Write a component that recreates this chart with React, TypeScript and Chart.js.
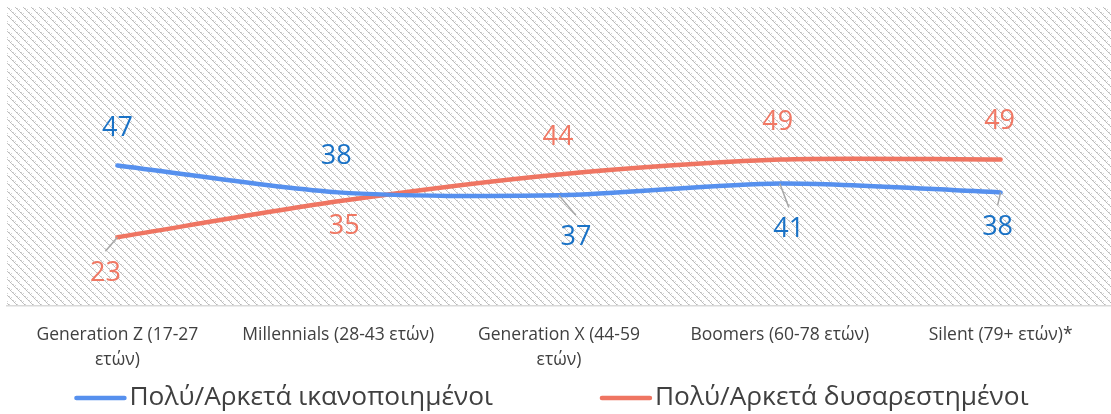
import { useEffect, useRef } from "react";
import { Chart, registerables } from "chart.js";

Chart.register(...registerables);

const categories: (string | string[])[] = [
  ["Generation Z (17-27", "ετών)"],
  "Millennials (28-43 ετών)",
  ["Generation X (44-59", "ετών)"],
  "Boomers (60-78 ετών)",
  "Silent (79+ ετών)*",
];
const seriesNames = ["Πολύ/Αρκετά ικανοποιημένοι", "Πολύ/Αρκετά δυσαρεστημένοι"];
const satisfied = [47, 38, 37, 41, 38];
const dissatisfied = [23, 35, 44, 49, 49];

// label placement (layout only): offset from the point, and whether a leader line is drawn
const satisfiedLabelLayout = [
  { dx: 0, dy: -37, leader: false },
  { dx: -2, dy: -36, leader: false },
  { dx: 17, dy: 42, leader: true },
  { dx: 9, dy: 46, leader: true },
  { dx: -3, dy: 35, leader: true },
];
const dissatisfiedLabelLayout = [
  { dx: -12, dy: 36, leader: true },
  { dx: 6, dy: 25, leader: false },
  { dx: -1, dy: -37, leader: false },
  { dx: -2, dy: -37, leader: false },
  { dx: -1, dy: -38, leader: false },
];

const BLUE_LINE = "#5690EE";
const BLUE_TEXT = "#1A72C6";
const RED_LINE = "#EF7562";
const RED_TEXT = "#F07864";
const TEXT = "#404040";
const FONT = "'Open Sans', 'Noto Sans', sans-serif";

function makePattern(ctx: CanvasRenderingContext2D) {
  const c = document.createElement("canvas");
  c.width = 8;
  c.height = 8;
  const p = c.getContext("2d")!;
  p.fillStyle = "#ffffff";
  p.fillRect(0, 0, 8, 8);
  // stair-step downward diagonal with small nubs
  for (let i = 0; i < 8; i++) {
    p.fillStyle = i % 2 === 0 ? "#b8b8b8" : "#c6c6c6";
    p.fillRect(i, i, 1, 1);
  }
  p.fillStyle = "#d4d4d4";
  p.fillRect(1, 0, 1, 1);
  p.fillRect(5, 4, 1, 1);
  p.fillRect(3, 1, 1, 1);
  p.fillRect(7, 5, 1, 1);
  return ctx.createPattern(c, "repeat")!;
}

const hatchPlugin = {
  id: "hatch",
  beforeDraw(chart: any) {
    const { ctx, chartArea } = chart;
    ctx.save();
    ctx.fillStyle = makePattern(ctx);
    ctx.fillRect(chartArea.left, chartArea.top, chartArea.right - chartArea.left, chartArea.bottom - chartArea.top);
    ctx.restore();
  },
};

const labelPlugin = {
  id: "valueLabels",
  afterDatasetsDraw(chart: any) {
    const ctx = chart.ctx as CanvasRenderingContext2D;
    const layouts = [satisfiedLabelLayout, dissatisfiedLabelLayout];
    const colors = [BLUE_TEXT, RED_TEXT];
    chart.data.datasets.forEach((ds: any, di: number) => {
      const meta = chart.getDatasetMeta(di);
      meta.data.forEach((pt: any, i: number) => {
        const L = layouts[di][i];
        const lx = pt.x + L.dx;
        const ly = pt.y + L.dy;
        if (L.leader) {
          ctx.save();
          ctx.strokeStyle = "#a6a6a6";
          ctx.lineWidth = 1.5;
          ctx.beginPath();
          ctx.moveTo(pt.x, pt.y);
          const endY = L.dy > 0 ? ly - 22 : ly + 22;
          ctx.lineTo(lx, endY);
          ctx.stroke();
          ctx.restore();
        }
        ctx.save();
        ctx.font = `27px ${FONT}`;
        ctx.fillStyle = colors[di];
        ctx.textAlign = "center";
        ctx.textBaseline = "middle";
        ctx.fillText(String(ds.data[i]), lx, ly);
        ctx.restore();
      });
    });
  },
};

const legendPlugin = {
  id: "customLegend",
  afterDraw(chart: any) {
    const ctx = chart.ctx as CanvasRenderingContext2D;
    const sampleW = 52;
    const gap = 3;
    const itemGap = 107;
    const y = 398;
    ctx.save();
    ctx.font = `26.3px ${FONT}`;
    const items = chart.data.datasets.map((ds: any) => ({
      text: ds.label,
      color: ds.borderColor,
      w: ctx.measureText(ds.label).width,
    }));
    const total = items.reduce((s: number, it: any) => s + sampleW + gap + it.w, 0) + itemGap * (items.length - 1);
    let x = chart.width / 2 - 4 - total / 2;
    items.forEach((it: any) => {
      ctx.strokeStyle = it.color;
      ctx.lineWidth = 4.5;
      ctx.lineCap = "round";
      ctx.beginPath();
      ctx.moveTo(x + 2, y);
      ctx.lineTo(x + sampleW - 2, y);
      ctx.stroke();
      ctx.fillStyle = TEXT;
      ctx.textAlign = "left";
      ctx.textBaseline = "middle";
      ctx.fillText(it.text, x + sampleW + gap, y);
      x += sampleW + gap + it.w + itemGap;
    });
    ctx.restore();
  },
};

export default function App() {
  const ref = useRef<HTMLCanvasElement>(null);
  useEffect(() => {
    document.body.style.margin = "0";
    const chart = new Chart(ref.current!, {
      type: "line",
      data: {
        labels: categories,
        datasets: [
          {
            label: seriesNames[0],
            data: satisfied,
            borderColor: BLUE_LINE,
            borderWidth: 4.5,
            pointRadius: 0,
            tension: 0.28,
            borderCapStyle: "round",
          },
          {
            label: seriesNames[1],
            data: dissatisfied,
            borderColor: RED_LINE,
            borderWidth: 4.5,
            pointRadius: 0,
            tension: 0.28,
            borderCapStyle: "round",
          },
        ],
      },
      options: {
        animation: false,
        responsive: false,
        devicePixelRatio: 1,
        layout: { padding: { left: 7, right: 0, top: 7, bottom: 0 } },
        plugins: { legend: { display: false }, tooltip: { enabled: false } },
        scales: {
          x: {
            offset: true,
            grid: { display: false, drawTicks: false },
            border: { display: true, color: "#d9d9d9", width: 1.5 },
            ticks: {
              color: TEXT,
              font: { family: FONT, size: 17.5, lineHeight: 1.4 },
              padding: 17,
              maxRotation: 0,
              autoSkip: false,
            },
            afterFit: (axis: any) => {
              axis.height = 108;
            },
          },
          y: { display: false, min: 0, max: 100 },
        },
      },
      plugins: [hatchPlugin, labelPlugin, legendPlugin],
    });
    return () => chart.destroy();
  }, []);
  return <canvas ref={ref} width={1111} height={414} style={{ display: "block" }} />;
}
